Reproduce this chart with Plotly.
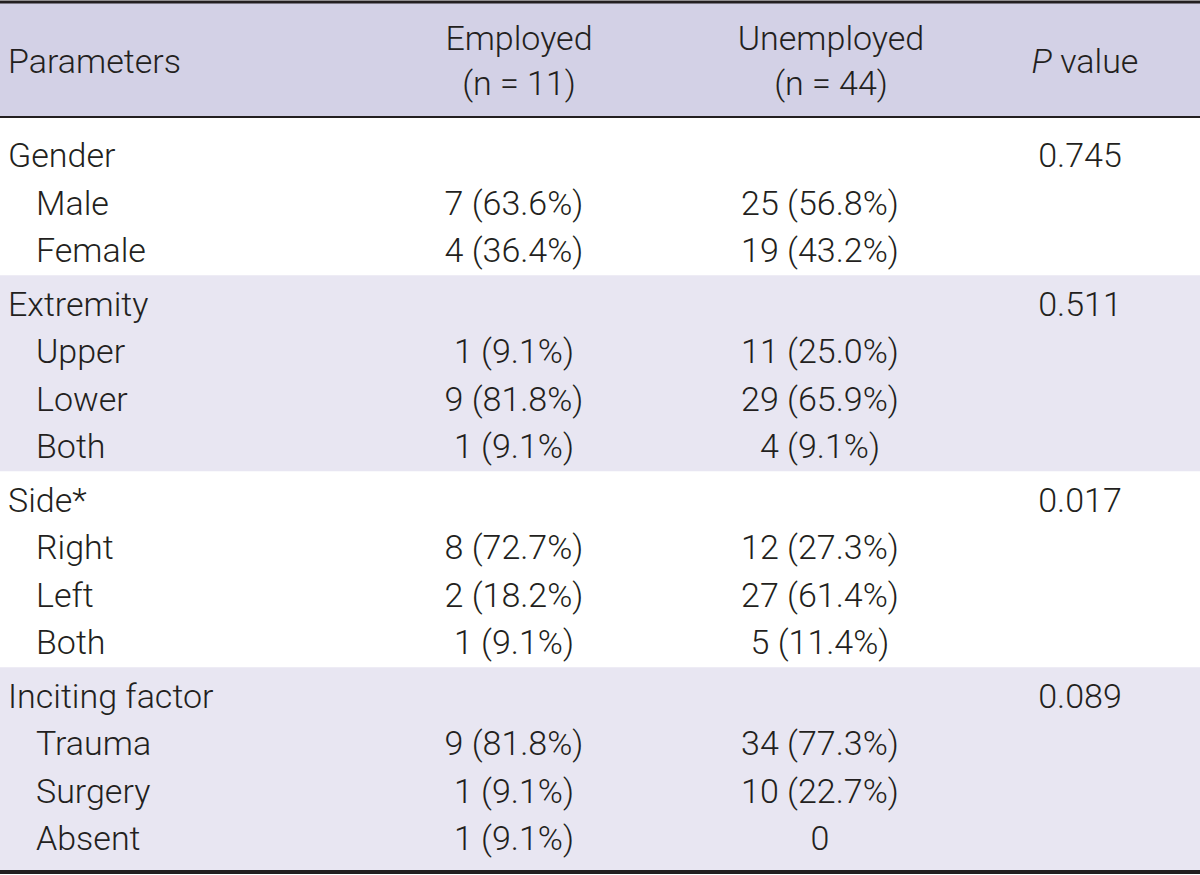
import plotly.graph_objects as go

# ---- data ----
groups = ["Gender", "Extremity", "Side*", "Inciting factor"]
subcats = [
    ["Male", "Female"],
    ["Upper", "Lower", "Both"],
    ["Right", "Left", "Both"],
    ["Trauma", "Surgery", "Absent"],
]
employed_n = [[7, 4], [1, 9, 1], [8, 2, 1], [9, 1, 1]]
employed_pct = [[63.6, 36.4], [9.1, 81.8, 9.1], [72.7, 18.2, 9.1], [81.8, 9.1, 9.1]]
unemployed_n = [[25, 19], [11, 29, 4], [12, 27, 5], [34, 10, 0]]
unemployed_pct = [[56.8, 43.2], [25.0, 65.9, 9.1], [27.3, 61.4, 11.4], [77.3, 22.7, 0.0]]
p_values = ["0.745", "0.511", "0.017", "0.089"]
headers = ["Parameters", "Employed<br>(n = 11)", "Unemployed<br>(n = 44)", "<i>P</i> value"]

# ---- styling / layout constants ----
FONT = "Roboto, Liberation Sans, sans-serif"
FS = 34
TXT = "#231f20"
HEAD_FILL = "#d3d1e6"
BAND_FILL = "#e8e6f2"
W, H = 1200, 875
X_LABEL, X_SUB, X_EMP, X_UNEMP, X_P = 8, 36, 514, 820, 1080
HX = [8, 519, 831, 1085]
HEAD_Y = 64
HEAD_TOP, HEAD_BOT, BODY_BOT = 2, 117, 871
Y0, STEP, GAP = 158.5, 47.5, 6


def fmt(n, p):
    return "0" if n == 0 else f"{n} ({p:.1f}%)"


# compute row positions
rows = []  # (y, label, x, emp, unemp, p)
band_edges = []
y = Y0
for gi, g in enumerate(groups):
    start_y = y
    rows.append((y, g, X_LABEL, "", "", p_values[gi]))
    for si, s in enumerate(subcats[gi]):
        y += STEP
        rows.append((y, s, X_SUB, fmt(employed_n[gi][si], employed_pct[gi][si]),
                     fmt(unemployed_n[gi][si], unemployed_pct[gi][si]), ""))
    band_edges.append((start_y, y))
    y += STEP + GAP

shapes = []
shapes.append(dict(type="rect", xref="x", yref="y", x0=0, x1=W, y0=HEAD_TOP, y1=HEAD_BOT,
                   fillcolor=HEAD_FILL, line_width=0, layer="below"))
for gi in range(len(groups)):
    top = HEAD_BOT if gi == 0 else (band_edges[gi - 1][1] + band_edges[gi][0]) / 2 - 5
    bot = BODY_BOT if gi == len(groups) - 1 else (band_edges[gi][1] + band_edges[gi + 1][0]) / 2 - 5
    if gi % 2 == 1:
        shapes.append(dict(type="rect", xref="x", yref="y", x0=0, x1=W, y0=top, y1=bot,
                           fillcolor=BAND_FILL, line_width=0, layer="below"))
shapes.append(dict(type="line", xref="x", yref="y", x0=0, x1=W, y0=HEAD_TOP, y1=HEAD_TOP,
                   line=dict(color=TXT, width=3)))
shapes.append(dict(type="line", xref="x", yref="y", x0=0, x1=W, y0=HEAD_BOT, y1=HEAD_BOT,
                   line=dict(color=TXT, width=2)))
shapes.append(dict(type="line", xref="x", yref="y", x0=0, x1=W, y0=BODY_BOT + 1, y1=BODY_BOT + 1,
                   line=dict(color=TXT, width=4)))

fig = go.Figure()
tf = dict(family=FONT, size=FS, color=TXT, weight=300)

fig.add_trace(go.Scatter(x=[HX[0]], y=[HEAD_Y], text=[headers[0]], mode="text",
                         textposition="middle right", textfont=tf, hoverinfo="skip"))
fig.add_trace(go.Scatter(x=HX[1:], y=[HEAD_Y] * 3, text=headers[1:], mode="text",
                         textposition="middle center", textfont=tf, hoverinfo="skip"))

fig.add_trace(go.Scatter(x=[r[2] for r in rows], y=[r[0] for r in rows], text=[r[1] for r in rows],
                         mode="text", textposition="middle right", textfont=tf, hoverinfo="skip"))
for col, xc in ((3, X_EMP), (4, X_UNEMP), (5, X_P)):
    sel = [r for r in rows if r[col]]
    fig.add_trace(go.Scatter(x=[xc] * len(sel), y=[r[0] for r in sel], text=[r[col] for r in sel],
                             mode="text", textposition="middle center", textfont=tf, hoverinfo="skip"))

fig.update_layout(
    width=W, height=H, margin=dict(l=0, r=0, t=0, b=0),
    paper_bgcolor="white", plot_bgcolor="white", showlegend=False,
    shapes=shapes,
    xaxis=dict(range=[0, W], visible=False, fixedrange=True),
    yaxis=dict(range=[H, 0], visible=False, fixedrange=True),
)
fig.write_html("out.html", config={"displayModeBar": False},
               post_script="document.body.style.margin='0px';document.body.style.overflow='hidden';")
